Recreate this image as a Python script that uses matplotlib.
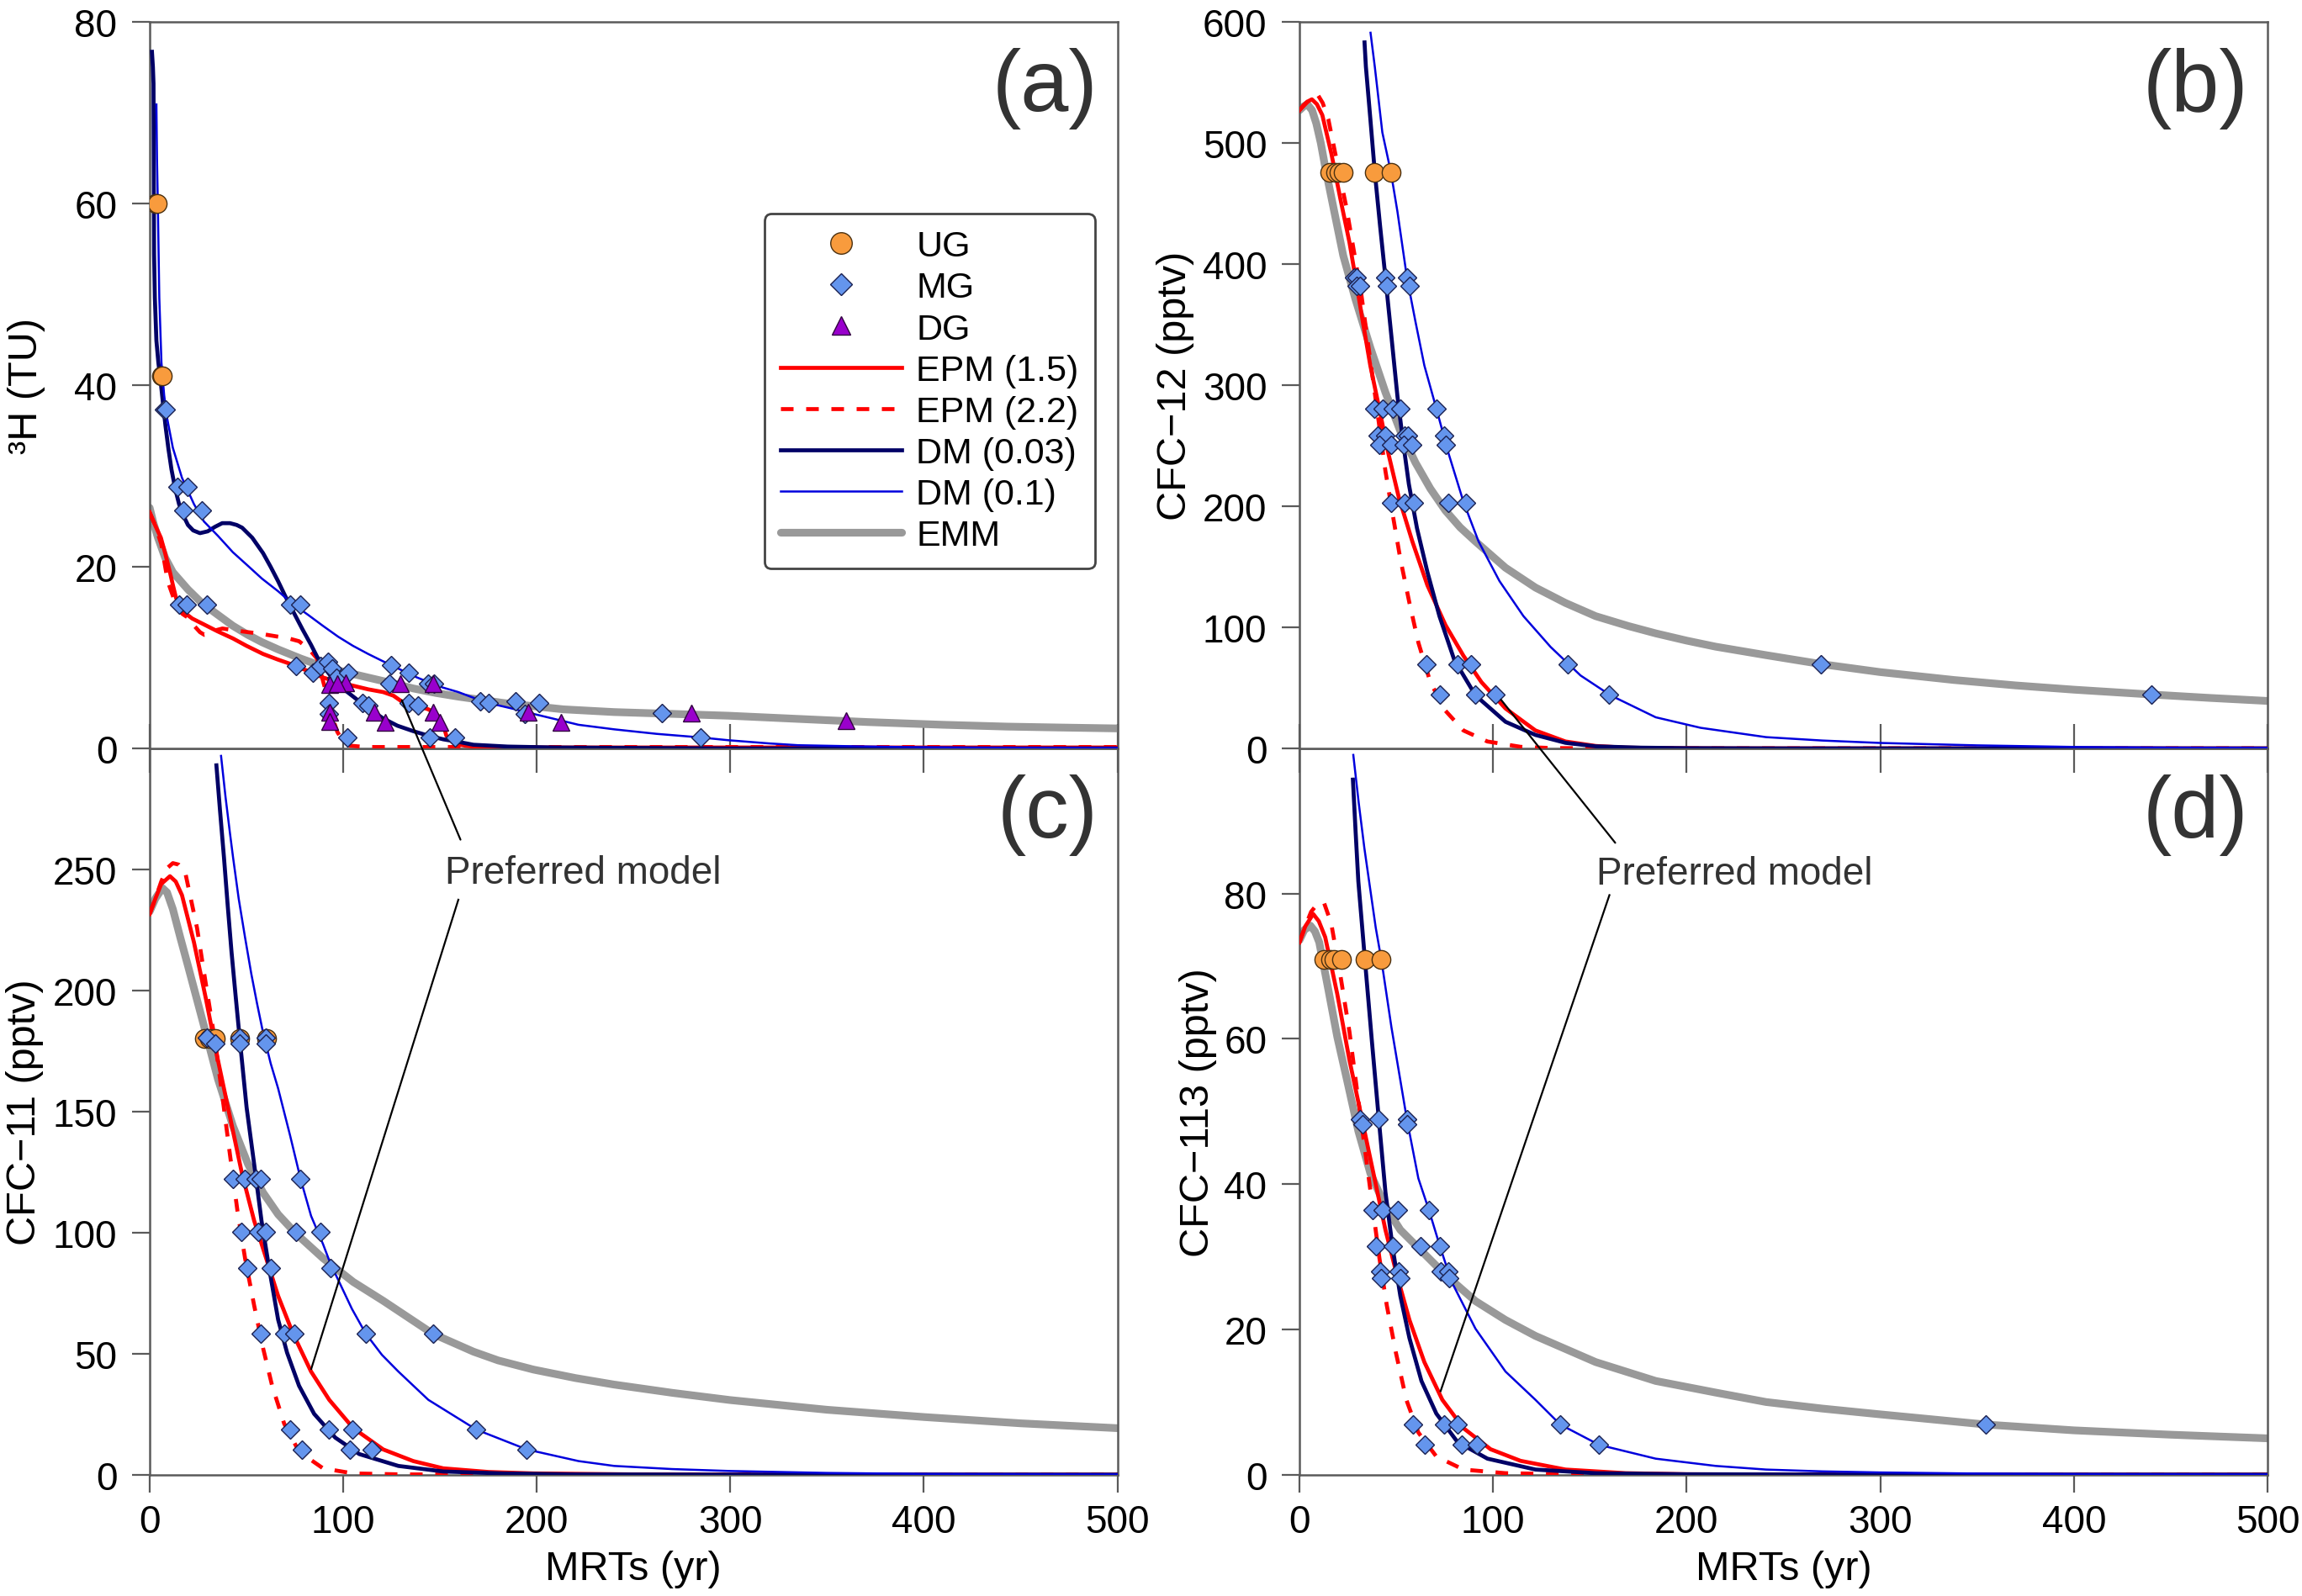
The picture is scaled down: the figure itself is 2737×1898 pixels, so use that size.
import matplotlib
matplotlib.use('Agg')
import matplotlib.pyplot as plt
from matplotlib.patches import ConnectionPatch

# ---------------- panel (a): 3H (TU) ----------------
a_ug_x = [3, 4, 6, 6.5]
a_ug_y = [60, 60, 41, 41]
a_mg_x = [7.5, 8.5, 14.3, 19.8, 17.5, 26.8, 15.2, 19.0, 29.4, 72.6, 78.0, 75.6, 84.2, 88.1,
          92.0, 94.3, 96.7, 102.8, 92.7, 92.7, 102.0, 109.8, 112.9, 124.6, 123.8, 133.9, 133.9,
          138.5, 144.0, 147.0, 144.7, 157.9, 171.0, 175.0, 189.0, 193.7, 201.4, 264.5, 284.7]
a_mg_y = [37.3, 37.3, 28.8, 28.8, 26.2, 26.2, 15.8, 15.8, 15.8, 15.8, 15.8, 9.1, 8.3, 9.1,
          9.5, 8.8, 7.8, 8.3, 5.0, 3.8, 1.2, 5.0, 4.7, 9.2, 7.1, 8.3, 5.0,
          4.7, 7.1, 7.1, 1.2, 1.2, 5.2, 5.0, 5.2, 3.8, 5.0, 3.9, 1.2]
a_dg_x = [92.9, 101.5, 97.0, 129.6, 146.4, 92.9, 92.9, 116.1, 121.7, 146.4, 149.9, 195.4, 212.6, 280.0, 359.7]
a_dg_y = [7.0, 7.2, 7.1, 7.1, 7.1, 4.0, 3.0, 4.0, 2.9, 4.0, 2.9, 4.0, 2.9, 3.9, 3.1]

a_emm_x = [0, 2, 4.3, 8, 12, 19.8, 27, 35.3, 43, 50.8, 58, 66.4, 78, 89.7, 101, 112.9, 125, 136.2,
           148, 159.5, 182.8, 213.8, 240, 270, 299, 340, 371, 410, 443, 470, 500]
a_emm_y = [26.5, 24.8, 23.2, 21.0, 19.4, 17.5, 16.0, 14.7, 13.5, 12.5, 11.7, 10.9, 9.9, 9.0, 8.4, 7.8,
           7.2, 6.6, 6.1, 5.7, 5.0, 4.3, 4.0, 3.8, 3.6, 3.2, 2.9, 2.6, 2.4, 2.3, 2.2]
a_epm15_x = [0, 3, 5.8, 8, 10.5, 12, 13.6, 16, 18.3, 22, 27.6, 35, 43.1, 50, 58.6, 66, 74.1, 82, 89.7,
             97, 105.2, 113, 120.7, 126, 130, 137, 144, 148, 150.2, 152, 153.3, 156, 158, 163, 167,
             180, 200, 250, 300, 400, 500]
a_epm15_y = [26.0, 24.5, 23.2, 21.5, 19.4, 18.0, 16.6, 15.5, 14.9, 14.3, 13.7, 12.9, 12.1, 11.3, 10.4,
             9.8, 9.2, 8.5, 7.8, 7.3, 6.9, 6.5, 6.2, 5.8, 5.2, 4.8, 4.3, 3.8, 3.3, 2.4, 1.4, 0.8, 0.5,
             0.3, 0.2, 0.15, 0.1, 0.1, 0.1, 0.1, 0.1]
a_epm22_x = [0, 3, 6, 8.7, 10, 12, 14, 17, 19.8, 23, 26, 28.3, 31, 34, 37.6, 44, 50.8, 58, 66.4, 72,
             77.2, 82, 86.5, 89.5, 92, 94.8, 97, 100, 103.5, 111.6, 200, 300, 400, 500]
a_epm22_y = [26.0, 24.5, 22.5, 19.2, 18.0, 16.8, 15.5, 14.8, 14.4, 13.5, 12.8, 12.5, 12.6, 13.0, 13.2,
             13.0, 12.8, 12.6, 12.3, 12.1, 11.8, 11.0, 9.9, 7.5, 5.5, 3.2, 1.8, 0.8, 0.3, 0.15, 0.15,
             0.15, 0.15, 0.15]
a_dm003_x = [1.2, 1.7, 2.0, 2.3, 2.7, 3.5, 4.5, 5.8, 7, 8.2, 9.7, 11.3, 13.2, 15.2, 17.5, 19.8, 22.5,
             26.0, 30, 33.8, 37.5, 41.5, 45, 47.8, 53, 58.6, 62.5, 66.4, 70, 74.1, 79, 83.4, 86.5, 89.7,
             93.5, 97.4, 101, 105.2, 113, 120.7, 128, 136.2, 144, 151.7, 160, 167.3, 185, 210, 250,
             300, 400, 500]
a_dm003_y = [76.7, 75.0, 73.2, 54.4, 49.6, 44.9, 42.5, 40.2, 37.8, 35.5, 33.0, 30.7, 28.6, 26.9, 25.6,
             24.6, 24.0, 23.7, 23.9, 24.4, 24.8, 24.8, 24.6, 24.3, 23.2, 21.5, 20.0, 18.4, 16.8, 15.1,
             13.1, 11.4, 10.1, 9.0, 8.0, 7.1, 6.4, 5.7, 4.4, 3.3, 2.5, 1.9, 1.4, 1.0, 0.7, 0.4, 0.2,
             0.1, 0.05, 0, 0, 0]
a_dm01_x = [3.5, 3.8, 4.3, 5.0, 6.1, 7.5, 9.0, 12.0, 16.7, 22.9, 28, 35.3, 43, 50.8, 58, 66.4, 74, 81.9,
            89.5, 97.4, 105, 112.9, 120.5, 128.4, 136, 144, 151.5, 159.5, 167, 175, 187, 198.3, 210,
            221.6, 240, 262, 285, 299, 320, 335, 360, 389, 430, 500]
a_dm01_y = [70.9, 65.0, 59.1, 49.6, 42.5, 38.9, 36.4, 33.1, 29.8, 26.9, 25.0, 23.4, 21.6, 20.1, 18.7,
            17.3, 15.9, 14.7, 13.5, 12.3, 11.3, 10.4, 9.6, 8.8, 8.0, 7.3, 6.7, 6.2, 5.6, 5.0, 4.4, 3.8,
            3.2, 2.6, 2.1, 1.6, 1.2, 0.9, 0.55, 0.35, 0.25, 0.15, 0.08, 0.05]

# ---------------- panel (b): CFC-12 (pptv) ----------------
b_ug_x = [15.7, 18.5, 20.3, 22.6, 38.5, 47.2]
b_ug_y = [476, 476, 476, 476, 476, 476]
b_mg_x = [28.1, 29.6, 29.6, 31.2, 44.4, 45.1, 55.5, 56.8,
          38.5, 42.8, 48.2, 52.1, 70.7,
          40.5, 44.4, 54.4, 56.0, 74.6,
          41.3, 47.5, 53.7, 58.3, 75.4,
          47.2, 54.4, 59.1, 77.0, 86.0,
          65.6, 81.6, 88.6, 138.7, 269.5,
          72.6, 90.9, 101.0, 160.0, 440.0]
b_mg_y = [388.9, 388.9, 381.6, 381.6, 388.9, 381.6, 388.9, 381.6,
          280.6, 280.6, 280.6, 280.6, 280.6,
          258.1, 258.1, 258.1, 258.1, 258.1,
          250.9, 250.9, 250.9, 250.9, 250.9,
          202.5, 202.5, 202.5, 202.5, 202.5,
          69.2, 69.2, 69.2, 69.2, 69.2,
          44.5, 44.5, 44.5, 44.5, 44.5]
b_emm_x = [0, 2, 4.0, 6.5, 8.7, 11, 13.3, 18.0, 22.6, 28.9, 36.6, 44.4, 52.1, 59.9, 67.6, 75.4, 83,
           90.9, 106.4, 121.9, 137.4, 153, 170, 184, 200, 215, 241, 270, 300, 338, 370, 400, 440, 470, 500]
b_emm_y = [527, 530, 532, 527, 516, 500, 480, 443, 407, 371, 331, 294, 262, 236, 214.5, 196.4, 182.5,
           170.9, 149.2, 132.8, 120.1, 109.2, 101, 95, 89, 84, 77, 69.5, 63, 56.5, 52, 48.5, 44.5, 41.7, 39.2]
b_epm15_x = [0, 2, 4, 6.4, 9, 11.8, 14, 16.5, 21.1, 25.8, 28.9, 32.7, 36.6, 41.3, 45.9, 51.3, 58.3,
             66.1, 75.4, 84.7, 94, 106.4, 121.9, 137.4, 153, 168.5, 190, 220, 300, 400, 500]
b_epm15_y = [527, 531, 534, 536, 532, 523, 508, 491, 454, 418, 389, 352.5, 316, 280, 243.6, 207.3,
             170.9, 134.6, 101.9, 76.5, 54.7, 33, 14.8, 5.7, 2.0, 0.6, 0.2, 0, 0, 0, 0]
b_epm22_x = [0, 3, 6, 9.5, 12, 14.9, 19.5, 24.2, 28.1, 32, 35.1, 38.2, 41.3, 44.4, 48.2, 52.1, 56.8,
             61.4, 67.6, 75.4, 84.7, 97.1, 114.2, 130, 160, 200, 300, 400, 500]
b_epm22_y = [527, 532, 537, 539.6, 533, 519.6, 483.3, 447, 410.7, 374.3, 338, 301.7, 265.4, 229,
             192.7, 156.4, 120.1, 87.4, 54.7, 31.1, 14.8, 5.7, 1.3, 0.3, 0, 0, 0, 0, 0]
b_dm003_x = [33.6, 34.3, 36.6, 38.9, 41.6, 44.4, 47.5, 50.6, 53.4, 56.5, 60.7, 66.1, 72.3, 80.0, 90.9,
             106.4, 121.9, 137.4, 153, 176.2, 200, 250, 300, 400, 500]
b_dm003_y = [583, 563, 520, 476, 432, 388.9, 340, 290.8, 254.5, 218.2, 181.8, 145.5, 109.2, 72.9, 43.8,
             22, 11.1, 4.6, 1.7, 0.6, 0.2, 0, 0, 0, 0]
b_dm01_x = [36.7, 38.9, 42.8, 47.2, 50.6, 55.5, 59.9, 64.5, 70.7, 77, 84.7, 92.5, 103.3, 115.7, 129.7,
            145.2, 160.7, 184, 207.2, 241, 270, 300, 350, 400, 450, 500]
b_dm01_y = [591, 563, 508.7, 476, 443.3, 388.9, 352.5, 316.2, 280.6, 243.6, 203.6, 170.9, 138.2, 109.2,
            83.8, 60.2, 43.8, 25.7, 17, 9.3, 6.5, 4.5, 2.5, 1.2, 0.6, 0.4]

# ---------------- panel (c): CFC-11 (pptv) ----------------
c_ug_x = [28.3, 31.0, 33.8, 46.5, 60.5]
c_ug_y = [180, 180, 180, 180, 180]
c_mg_x = [29.6, 33.8, 46.5, 46.5, 60.2, 60.2,
          43.1, 49.3, 54.7, 57.5, 78.0,
          47.4, 56.3, 60.2, 75.7, 88.1,
          50.5, 62.5, 93.5,
          57.4, 69.5, 74.9, 111.7, 146.3,
          72.6, 92.8, 104.7, 168.8,
          78.8, 103.3, 114.8, 194.9]
c_mg_y = [180.5, 178, 180.5, 178, 180.5, 178,
          122.1, 122.1, 122.1, 122.1, 122.1,
          100.1, 100.1, 100.1, 100.1, 100.1,
          85.5, 85.5, 85.5,
          58.2, 58.2, 58.2, 58.2, 58.2,
          18.6, 18.6, 18.6, 18.6,
          10.4, 10.4, 10.4, 10.4]
c_emm_x = [0, 3, 6.6, 9, 12, 15.8, 19.8, 27.6, 35.3, 43.1, 50.8, 58.6, 66.4, 75.7, 89.6, 105.2, 120.7,
           146.3, 167.3, 180, 198.3, 220, 240, 270, 300, 350, 400, 450, 500]
c_emm_y = [232.6, 238, 242.3, 240.5, 233.6, 222, 210.2, 186.8, 163.4, 143.9, 128.3, 116.5, 107.5, 99.5,
           89.4, 79.6, 71.8, 58.2, 50.8, 47.2, 43.4, 39.9, 37.2, 33.8, 30.8, 26.8, 23.8, 21.2, 19.2]
c_epm15_x = [0, 3, 6, 10.5, 13.5, 16.7, 22.9, 29.1, 35.3, 41.5, 47.7, 54, 60.2, 66.4, 74.1, 83.4, 92.8,
             105.2, 120.7, 136.2, 151.7, 175, 198.3, 250, 300, 400, 500]
c_epm15_y = [231.6, 238, 244, 247.2, 245, 239.4, 219.9, 196.5, 171.2, 147.8, 124.4, 104.9, 89.4, 73.8,
             58.2, 42.6, 30.9, 19.2, 10.4, 5.6, 2.6, 1.1, 0.5, 0.1, 0, 0, 0]
c_epm22_x = [0, 3, 6, 9, 12, 15, 18.3, 24.5, 29.1, 33.8, 37.7, 41.5, 45.4, 49.3, 54, 58.6, 63.3, 69.5,
             77.2, 89.6, 105.2, 130, 200, 300, 400, 500]
c_epm22_y = [231.6, 238, 245, 250.5, 252.6, 252, 249.1, 225.8, 202.4, 179, 155.6, 132.2, 108.8, 89.4,
             69.9, 52.3, 36.7, 21.1, 9.5, 2.6, 0.5, 0.1, 0, 0, 0, 0]
c_dm003_x = [34.5, 36.4, 38.4, 40.3, 42.3, 44.4, 46.5, 50.1, 54, 57.8, 61.7, 66.4, 71, 77.2, 85, 95.9,
             108.3, 128.5, 151.7, 182.8, 220, 300, 400, 500]
c_dm003_y = [293, 274, 255, 235.5, 216, 198, 180.5, 151.7, 128.3, 104.9, 85.5, 64, 50.4, 36.7, 25.1,
             15.3, 8.5, 3.6, 1.3, 0.5, 0.1, 0, 0, 0]
c_dm01_x = [36.9, 39.2, 41.5, 43.1, 46, 49.3, 52.5, 55.5, 58.5, 62.5, 66.4, 72.6, 78, 83.4, 89.6, 93.5,
            97.4, 104.5, 111.7, 120, 128.5, 144, 168.8, 194.9, 221.6, 240, 270, 300, 350, 400, 500]
c_dm01_y = [296.9, 280, 265, 255, 238, 221.9, 207, 194.6, 183, 170, 159.5, 140, 122.1, 106.9, 95.2, 87,
            80.5, 68.5, 58.2, 49.5, 42.6, 30.9, 18.6, 10.4, 5.6, 3.6, 2.3, 1.5, 0.7, 0.3, 0.1]

# ---------------- panel (d): CFC-113 (pptv) ----------------
d_ug_x = [12.6, 16.0, 18.0, 21.9, 33.8, 42.3]
d_ug_y = [70.9, 70.9, 70.9, 70.9, 70.9, 70.9]
d_mg_x = [31.2, 32.7, 41.0, 55.5, 55.8,
          37.9, 42.8, 50.9, 66.9,
          39.7, 48.2, 62.7, 72.6,
          41.7, 51.3, 73.1, 77.0,
          42.0, 52.1, 77.2,
          58.8, 74.6, 81.6, 134.7, 354.5,
          64.8, 83.9, 91.7, 154.8]
d_mg_y = [48.9, 48.3, 48.9, 48.9, 48.3,
          36.4, 36.4, 36.4, 36.4,
          31.4, 31.4, 31.4, 31.4,
          28.0, 28.0, 28.0, 28.0,
          27.1, 27.1, 27.1,
          6.9, 6.9, 6.9, 6.9, 6.9,
          4.1, 4.1, 4.1, 4.1]
d_emm_x = [0, 2.5, 5.6, 8, 10.2, 14.9, 19.5, 25, 30.4, 36.6, 44.4, 52.1, 63, 75.4, 90.9, 106.4, 121.9,
           153, 184, 215, 241, 270, 300, 354.5, 400, 450, 500]
d_emm_y = [73.6, 75, 75.6, 74.8, 73.3, 66.8, 60.3, 53.8, 47.3, 41.5, 36.9, 33.7, 30.8, 27.5, 23.9, 21.3,
           19.1, 15.5, 12.9, 11.3, 10.0, 9.1, 8.3, 6.9, 6.1, 5.5, 5.0]
d_epm15_x = [0, 3, 7.1, 10, 13.3, 19.5, 25.8, 32, 38.2, 44.4, 50.6, 56.8, 64.5, 73.8, 84.7, 98.7, 114.2,
             137.4, 168.5, 200, 300, 400, 500]
d_epm15_y = [73.3, 75.5, 77.2, 76.2, 74, 66.2, 57.1, 49.3, 41.5, 33.7, 27.2, 21.3, 15.5, 10.3, 6.4, 3.5,
             1.9, 0.7, 0.2, 0.05, 0, 0, 0]
d_epm22_x = [0, 3, 6, 9, 12.6, 16.4, 21.1, 25.8, 29.6, 33.5, 37.4, 41.3, 45.1, 49.8, 55.2, 61.4, 70.7,
             84.7, 106.4, 150, 200, 300, 400, 500]
d_epm22_y = [73.3, 75.5, 77.5, 78.5, 78.8, 75.9, 68.8, 61, 53.2, 45.4, 37.6, 29.8, 23.3, 16.8, 10.3, 5.8,
             2.5, 0.7, 0.2, 0, 0, 0, 0, 0]
d_dm003_x = [27.6, 29, 30.4, 33.8, 37.4, 41, 44.4, 48.2, 52.1, 56.8, 63, 70.7, 81.6, 97.1, 121.9, 153,
             200, 300, 400, 500]
d_dm003_y = [95.7, 88.5, 81.7, 70.9, 59.7, 48.9, 38.9, 31.1, 24.6, 18.8, 12.9, 8.4, 4.5, 2.2, 0.7, 0.2,
             0.05, 0, 0, 0]
d_dm01_x = [27.8, 30.6, 33.5, 39.4, 42.3, 47.5, 55.5, 61.4, 66.9, 72.6, 78.5, 90.9, 106.4, 121.9, 134.7,
            154.8, 184, 215, 241, 270, 300, 350, 400, 500]
d_dm01_y = [99.1, 92.5, 86.3, 75.3, 70.9, 61.6, 48.9, 40.8, 36.4, 31.4, 26.6, 20.1, 14.2, 10.3, 6.9,
            4.1, 2.2, 1.2, 0.7, 0.45, 0.3, 0.15, 0.08, 0.03]

legend_labels = ['UG', 'MG', 'DG', 'EPM (1.5)', 'EPM (2.2)', 'DM (0.03)', 'DM (0.1)', 'EMM']
x_ticks = [0, 100, 200, 300, 400, 500]

plt.rcParams['font.family'] = ['Liberation Sans', 'DejaVu Sans']
plt.rcParams['lines.scale_dashes'] = False

SPINE = '#5a5a5a'
TXT = '#333333'

fig = plt.figure(figsize=(13.685, 9.495), dpi=200)
L1, R1 = 0.0650, 0.4854
L2, R2 = 0.5645, 0.9850
B, M, T = 0.0760, 0.5308, 0.9858

# bottom row first so the ticks of the top row stay visible across the shared edge
ax_c = fig.add_axes([L1, B, R1 - L1, M - B])
ax_d = fig.add_axes([L2, B, R2 - L2, M - B])
ax_a = fig.add_axes([L1, M, R1 - L1, T - M])
ax_b = fig.add_axes([L2, M, R2 - L2, T - M])


def draw(ax, ug, mg, dg, emm, epm15, epm22, dm003, dm01):
    ax.plot(*emm, color='#999999', lw=3.3, solid_capstyle='round', zorder=2)
    ax.plot(*epm15, color='#ff0000', lw=1.7, zorder=3)
    ax.plot(*epm22, color='#ff0000', lw=1.7, dashes=(5.4, 5.4), zorder=3)
    ax.plot(*dm003, color='#000066', lw=1.7, zorder=3)
    ax.plot(*dm01, color='#0000dd', lw=0.9, zorder=3)
    ax.plot(*ug, ls='none', marker='o', ms=8, mfc='#f89b3d', mec='#4a3010', mew=0.5, zorder=4)
    ax.plot(*mg, ls='none', marker='D', ms=5.6, mfc='#6495ed', mec='#1a2050', mew=0.5, zorder=5)
    if dg is not None:
        ax.plot(*dg, ls='none', marker='^', ms=7, mfc='#9900cc', mec='#30003f', mew=0.5, zorder=6)
    ax.set_xlim(0, 500)
    for s in ax.spines.values():
        s.set_color(SPINE)
        s.set_linewidth(0.9)
    ax.tick_params(axis='y', direction='out', length=7.4, width=0.8, color=SPINE,
                   pad=6.5, labelsize=16.5)
    ax.set_xticks(x_ticks)


draw(ax_a, (a_ug_x, a_ug_y), (a_mg_x, a_mg_y), (a_dg_x, a_dg_y), (a_emm_x, a_emm_y),
     (a_epm15_x, a_epm15_y), (a_epm22_x, a_epm22_y), (a_dm003_x, a_dm003_y), (a_dm01_x, a_dm01_y))
draw(ax_b, (b_ug_x, b_ug_y), (b_mg_x, b_mg_y), None, (b_emm_x, b_emm_y),
     (b_epm15_x, b_epm15_y), (b_epm22_x, b_epm22_y), (b_dm003_x, b_dm003_y), (b_dm01_x, b_dm01_y))
draw(ax_c, (c_ug_x, c_ug_y), (c_mg_x, c_mg_y), None, (c_emm_x, c_emm_y),
     (c_epm15_x, c_epm15_y), (c_epm22_x, c_epm22_y), (c_dm003_x, c_dm003_y), (c_dm01_x, c_dm01_y))
draw(ax_d, (d_ug_x, d_ug_y), (d_mg_x, d_mg_y), None, (d_emm_x, d_emm_y),
     (d_epm15_x, d_epm15_y), (d_epm22_x, d_epm22_y), (d_dm003_x, d_dm003_y), (d_dm01_x, d_dm01_y))

ax_a.set_ylim(0, 80)
ax_a.set_yticks([0, 20, 40, 60, 80])
ax_b.set_ylim(0, 600)
ax_b.set_yticks([0, 100, 200, 300, 400, 500, 600])
ax_c.set_ylim(0, 300)
ax_c.set_yticks([0, 50, 100, 150, 200, 250])
ax_d.set_ylim(0, 100)
ax_d.set_yticks([0, 20, 40, 60, 80])

for ax in (ax_a, ax_b):
    ax.tick_params(axis='x', direction='inout', length=20.8, width=0.8, color=SPINE,
                   labelbottom=False)
for ax in (ax_c, ax_d):
    ax.tick_params(axis='x', direction='out', length=7.4, width=0.8, color=SPINE,
                   pad=5, labelsize=16.5)
    ax.set_xlabel('MRTs (yr)', fontsize=17.5)
    ax.xaxis.set_label_coords(0.5, -0.103)

ax_a.set_ylabel('³H (TU)', fontsize=17.5)
ax_b.set_ylabel('CFC−12 (pptv)', fontsize=17.5)
ax_c.set_ylabel('CFC−11 (pptv)', fontsize=17.5)
ax_d.set_ylabel('CFC−113 (pptv)', fontsize=17.5)
ax_a.yaxis.set_label_coords(-0.108, 0.5)
ax_b.yaxis.set_label_coords(-0.109, 0.5)
ax_c.yaxis.set_label_coords(-0.109, 0.5)
ax_d.yaxis.set_label_coords(-0.085, 0.5)

for ax, tag in ((ax_a, '(a)'), (ax_b, '(b)'), (ax_c, '(c)'), (ax_d, '(d)')):
    ax.text(0.98, 0.909, tag, transform=ax.transAxes, ha='right', va='center',
            fontsize=37, color=TXT)

# preferred model call-outs
ax_c.text(224, 248.5, 'Preferred model', ha='center', va='center', fontsize=16.5, color=TXT)
ax_d.text(224.6, 82.8, 'Preferred model', ha='center', va='center', fontsize=16.5, color=TXT)
ax_c.plot([159.5, 83.5], [237.5, 43.7], color='k', lw=0.8, zorder=7)
ax_d.plot([160.1, 72.9], [79.8, 11.5], color='k', lw=0.8, zorder=7)
fig.add_artist(ConnectionPatch(xyA=(130.3, 5.3), coordsA=ax_a.transData,
                               xyB=(160.6, 262.3), coordsB=ax_c.transData, color='k', lw=0.8))
fig.add_artist(ConnectionPatch(xyA=(104.1, 40.2), coordsA=ax_b.transData,
                               xyB=(163.1, 87.0), coordsB=ax_d.transData, color='k', lw=0.8))

handles = ax_a.get_lines()
order = [5, 6, 7, 1, 2, 3, 4, 0]
leg = ax_a.legend([handles[i] for i in order], legend_labels, loc='upper right',
                  bbox_to_anchor=(0.977, 0.736), borderaxespad=0, fontsize=15.5,
                  handlelength=3.35, handletextpad=0.4, labelspacing=0.21, borderpad=0.45,
                  numpoints=1, markerscale=1.15, fancybox=True, framealpha=1,
                  edgecolor='#444444')
leg.get_frame().set_linewidth(1.0)

fig.savefig('out.png', dpi=200)
